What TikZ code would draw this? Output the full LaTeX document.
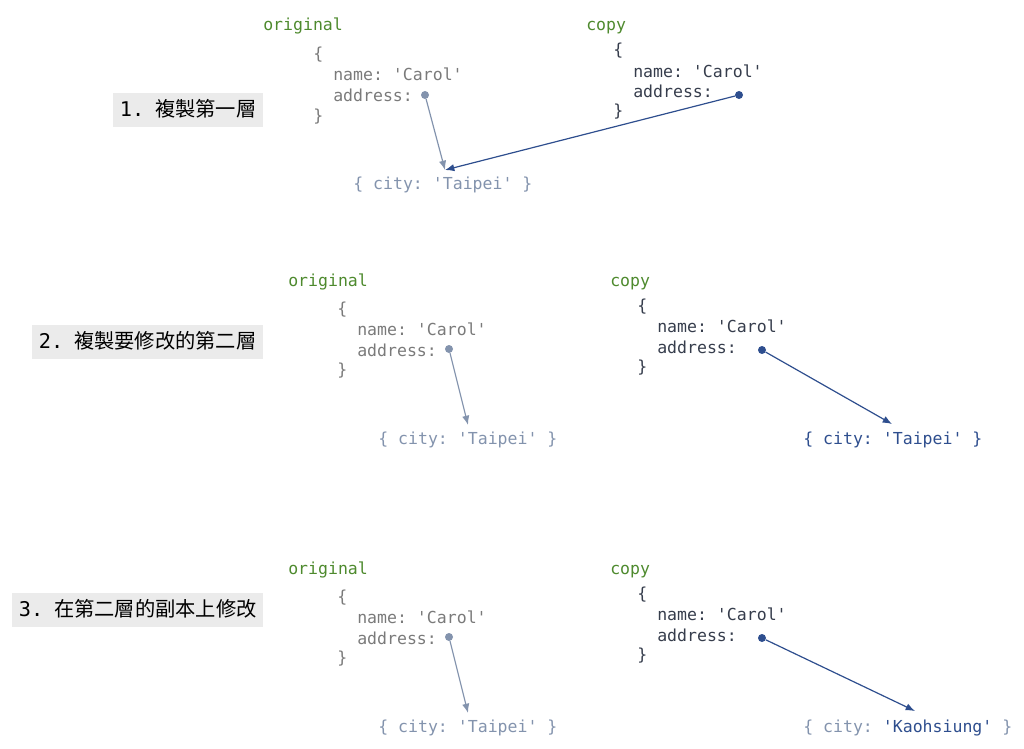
\documentclass[tikz,border=0pt]{standalone}
\usepackage{fontspec}
\setmonofont{DejaVu Sans Mono}
\newfontfamily\cjk{Noto Sans CJK TC}
\usetikzlibrary{arrows.meta}
\definecolor{keygreen}{HTML}{4E8A2E}
\definecolor{oldgray}{HTML}{7A7A7A}
\definecolor{oldblue}{HTML}{8393AD}
\definecolor{newtext}{HTML}{363D4C}
\definecolor{newblue}{HTML}{2E4E8E}
\definecolor{stepgray}{HTML}{EBEBEB}
\newcommand{\stepno}[1]{{\ttfamily #1.}\hspace{8pt}}

\begin{document}
\begin{tikzpicture}[x=0.75pt,y=-0.75pt,
every node/.style={inner sep=0pt,anchor=west,text height=11.5pt,text depth=2.5pt,font=\ttfamily\fontsize{12.4}{14}\selectfont},
steplabel/.style={fill=stepgray,inner xsep=5pt,inner ysep=5pt,text height=12pt,text depth=3pt,font=\cjk\fontsize{15.2}{17}\selectfont,text=black},
objname/.style={text=keygreen},
oldcode/.style={text=oldgray},
newcode/.style={text=newtext},
olddot/.style={circle,fill=oldblue,minimum size=6pt,anchor=center,text height=,text depth=},
newdot/.style={circle,fill=newblue,minimum size=6pt,anchor=center,text height=,text depth=},
oldarrow/.style={draw=oldblue,line width=0.9pt,-{Latex[length=7pt,width=5.5pt]}},
newarrow/.style={draw=newblue,line width=0.9pt,-{Latex[length=7pt,width=5.5pt]}}]
\useasboundingbox (0,0) rectangle (1024,749);
\node[steplabel] (S1) at (113,110) {\stepno{1}複製第一層};
\node[objname] (O1) at (263,25) {original};
\node[oldcode] (O1a) at (313,54) {\{};
\node[oldcode] (O1b) at (333,74) {name: 'Carol'};
\node[oldcode] (O1c) at (333,95) {address:};
\node[oldcode] (O1d) at (313,115) {\}};
\node[olddot] (O1p) at (425,95) {};
\node[oldcode,text=oldblue] (C1) at (353,183) {\{ city: 'Taipei' \}};
\coordinate (C1t) at (445,170);
\node[objname] (N1) at (586,25) {copy};
\node[newcode] (N1a) at (613,50) {\{};
\node[newcode] (N1b) at (633,72) {name: 'Carol'};
\node[newcode] (N1c) at (633,92) {address:};
\node[newcode] (N1d) at (613,111) {\}};
\node[newdot] (N1p) at (739,95) {};
\draw[oldarrow] (O1p) -- (C1t);
\draw[newarrow] (N1p) -- (C1t);
\node[steplabel] (S2) at (32,342) {\stepno{2}複製要修改的第二層};
\node[objname] (O2) at (288,280) {original};
\node[oldcode] (O2a) at (337,308) {\{};
\node[oldcode] (O2b) at (357,329) {name: 'Carol'};
\node[oldcode] (O2c) at (357,350) {address:};
\node[oldcode] (O2d) at (337,369) {\}};
\node[olddot] (O2p) at (449,349) {};
\node[oldcode,text=oldblue] (C2) at (378,438) {\{ city: 'Taipei' \}};
\coordinate (C2t) at (468,425);
\node[objname] (N2) at (610,280) {copy};
\node[newcode] (N2a) at (637,305) {\{};
\node[newcode] (N2b) at (657,326) {name: 'Carol'};
\node[newcode] (N2c) at (657,347) {address:};
\node[newcode] (N2d) at (637,366) {\}};
\node[newdot] (N2p) at (762,350) {};
\node[newcode,text=newblue] (D2) at (803,438) {\{ city: 'Taipei' \}};
\coordinate (D2t) at (892,424);
\draw[oldarrow] (O2p) -- (C2t);
\draw[newarrow] (N2p) -- (D2t);
\node[steplabel] (S3) at (12,610) {\stepno{3}在第二層的副本上修改};
\node[objname] (O3) at (288,568) {original};
\node[oldcode] (O3a) at (337,596) {\{};
\node[oldcode] (O3b) at (357,617) {name: 'Carol'};
\node[oldcode] (O3c) at (357,638) {address:};
\node[oldcode] (O3d) at (337,657) {\}};
\node[olddot] (O3p) at (449,637) {};
\node[oldcode,text=oldblue] (C3) at (378,726) {\{ city: 'Taipei' \}};
\coordinate (C3t) at (468,713);
\node[objname] (N3) at (610,568) {copy};
\node[newcode] (N3a) at (637,593) {\{};
\node[newcode] (N3b) at (657,614) {name: 'Carol'};
\node[newcode] (N3c) at (657,635) {address:};
\node[newcode] (N3d) at (637,654) {\}};
\node[newdot] (N3p) at (762,638) {};
\node[newcode,text=oldblue] (D3) at (803,726) {\{ city: {\color{newblue}'Kaohsiung'} \}};
\coordinate (D3t) at (915,711);
\draw[oldarrow] (O3p) -- (C3t);
\draw[newarrow] (N3p) -- (D3t);
\end{tikzpicture}
\end{document}
